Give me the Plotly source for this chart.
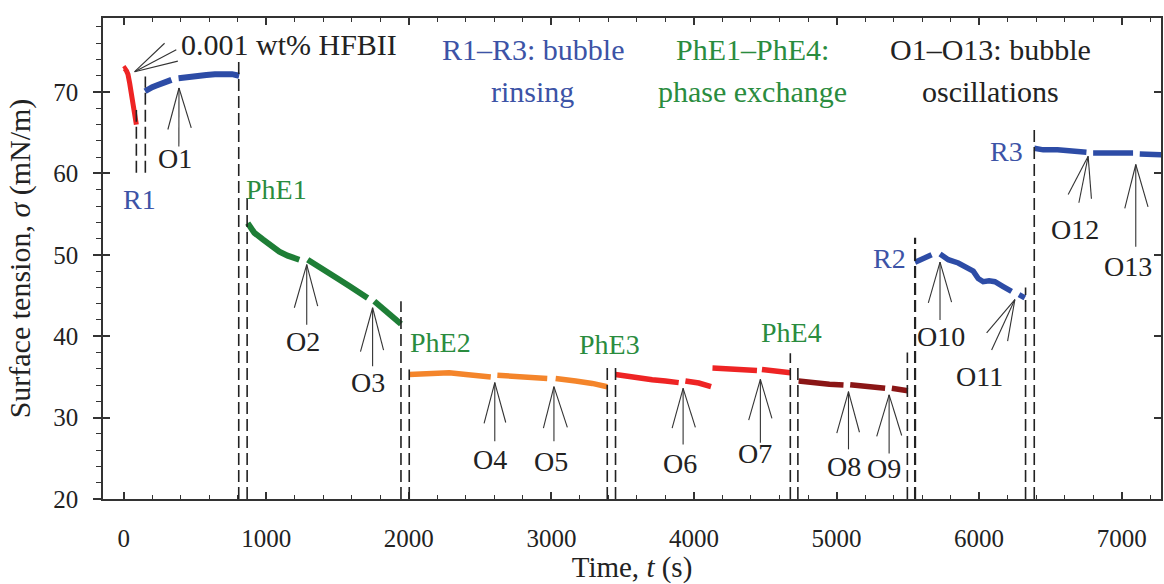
import plotly.graph_objects as go

# ---------------- data (time in s, surface tension in mN/m); None = gap ----------------
t_red1 = [0, 8, 20, 30, 42, 54, 65, 77, 89]
s_red1 = [72.8, 72.9, 72.6, 72.2, 71.1, 69.9, 68.6, 67.4, 66.0]

t_blue1 = [150, 175, 200, 230, 260, 290, 320, 335, None, 385, 420, 470, 520, 580, 640, 700, 760, 810]
s_blue1 = [70.1, 70.4, 70.6, 70.8, 71.0, 71.2, 71.4, 71.5, None, 71.7, 71.8, 71.9, 72.0, 72.1, 72.2, 72.2, 72.2, 72.0]

t_green = [870, 917, 976, 1030, 1092, 1150, 1200, 1232, None, 1291, 1350, 1420, 1500, 1580, 1650, 1711,
           None, 1758, 1820, 1890, 1945]
s_green = [53.9, 52.7, 51.9, 51.1, 50.4, 49.9, 49.6, 49.4, None, 49.4, 48.7, 48.0, 47.1, 46.2, 45.4, 44.7,
           None, 44.3, 43.4, 42.4, 41.5]

t_orange = [2003, 2100, 2166, 2283, 2400, 2500, 2575, None, 2621, 2700, 2820, 2900, 2971, None,
            3030, 3100, 3170, 3287, 3392]
s_orange = [35.3, 35.4, 35.4, 35.5, 35.3, 35.2, 35.0, None, 35.2, 35.1, 35.0, 34.9, 34.8, None,
            34.8, 34.7, 34.5, 34.2, 33.8]

t_red3a = [3450, 3567, 3707, 3800, 3893, None, 3940, 4034, 4120]
s_red3a = [35.3, 34.95, 34.65, 34.5, 34.3, None, 34.5, 34.25, 33.8]

t_red3b = [4130, 4267, 4350, 4442, None, 4477, 4594, 4676]
s_red3b = [36.1, 35.9, 35.85, 35.8, None, 35.9, 35.7, 35.5]

t_dark = [4734, 4851, 4950, 5049, None, 5096, 5224, 5341, None, 5388, 5450, 5500]
s_dark = [34.5, 34.25, 34.1, 34.0, None, 34.05, 33.8, 33.6, None, 33.6, 33.5, 33.3]

t_blue2 = [5551, 5609, 5667, None, 5726, 5784, 5854, 5924, 5959, 5994, 6029, 6070, 6111, 6169, 6228,
           None, 6280, 6321]
s_blue2 = [49.1, 49.6, 50.0, None, 50.1, 49.4, 49.0, 48.4, 48.0, 47.1, 46.7, 46.8, 46.7, 46.1, 45.5,
           None, 45.1, 44.7]

t_blue3 = [6387, 6450, 6550, 6650, 6753, None, 6800, 6900, 7000, 7080, None, 7127, 7200, 7278]
s_blue3 = [63.1, 62.9, 62.9, 62.8, 62.6, None, 62.5, 62.5, 62.5, 62.5, None, 62.4, 62.4, 62.3]

# vertical dashed markers: time, top, bottom
dash_t = [89, 152, 807, 866, 1945, 2003, 3392, 3450, 4676, 4729, 5497, 5551, 6326, 6387]
dash_top = [67.8, 71.9, 73.8, 57.1, 44.3, 35.9, 36.1, 36.1, 37.9, 36.1, 38.0, 52.1, 46.0, 65.8]
dash_bot = [60.1, 60.1, 20, 20, 20, 20, 20, 20, 20, 20, 20, 20, 20, 20]

# oscillation arrows: label, label position, tip, line ends
osc_labels = ["O1", "O2", "O3", "O4", "O5", "O6", "O7", "O8", "O9", "O10", "O11", "O12", "O13"]
osc_label_t = [357, 1256, 1711, 2570, 2995, 3905, 4431, 5049, 5336, 5733, 6006, 6671, 7045]
osc_label_s = [61.8, 39.4, 34.3, 24.8, 24.6, 24.4, 25.6, 24.0, 23.8, 40.0, 35.1, 53.1, 48.6]
osc_tip_t = [388, 1284, 1746, 2603, 3018, 3924, 4466, 5084, 5369, 5726, 6251, 6765, 7099]
osc_tip_s = [70.5, 48.8, 43.5, 34.3, 33.8, 33.6, 34.7, 33.2, 32.8, 49.1, 44.5, 62.1, 61.1]
osc_ends = [
    [(310, 65.4), (387, 63.3), (474, 65.6)],
    [(1197, 43.5), (1284, 41.4), (1361, 43.7)],
    [(1661, 38.1), (1746, 36.3), (1823, 38.3)],
    [(2528, 29.3), (2603, 27.1), (2680, 29.4)],
    [(2944, 28.7), (3018, 27.1), (3112, 28.8)],
    [(3847, 28.7), (3924, 26.7), (4010, 28.8)],
    [(4384, 29.7), (4466, 26.9), (4547, 29.9)],
    [(5002, 28.1), (5084, 26.1), (5161, 28.2)],
    [(5282, 27.7), (5369, 25.6), (5457, 27.8)],
    [(5644, 44.1), (5726, 42.0), (5807, 44.2)],
    [(6053, 40.4), (6088, 38.3), (6200, 39.4)],
    [(6625, 57.4), (6700, 56.4), (6788, 56.9)],
    [(7022, 55.7), (7099, 51.0), (7185, 55.9)],
]

# HFBII concentration pointer
hfb_tip = (77, 72.5)
hfb_ends = [(287, 76.0), (369, 75.2), (380, 73.8)]

# stage labels
stage_labels = ["R1", "PhE1", "PhE2", "PhE3", "PhE4", "R2", "R3"]
stage_t = [112, 1072, 2220, 3410, 4681, 5371, 6192]
stage_s = [56.8, 58.0, 39.2, 39.0, 40.4, 49.6, 62.7]
stage_kind = ["R", "P", "P", "P", "P", "R", "R"]

BLUE = "#2D4CA6"
RED = "#EE2424"
GREEN = "#1E7E36"
ORANGE = "#F4852B"
DARK = "#8A1616"
TXT_BLUE = "#3C53A6"
TXT_GREEN = "#2A8C3E"
INK = "#222222"
FONT = "Liberation Serif, Times New Roman, serif"

series = [
    (t_red1, s_red1, RED, 5),
    (t_blue1, s_blue1, BLUE, 6),
    (t_green, s_green, GREEN, 6),
    (t_orange, s_orange, ORANGE, 5.5),
    (t_red3a, s_red3a, RED, 5.5),
    (t_red3b, s_red3b, RED, 5.5),
    (t_dark, s_dark, DARK, 5.5),
    (t_blue2, s_blue2, BLUE, 5.5),
    (t_blue3, s_blue3, BLUE, 5.5),
]

fig = go.Figure()
for tx, sy, col, w in series:
    fig.add_trace(go.Scatter(x=tx, y=sy, mode="lines", connectgaps=False,
                             line=dict(color=col, width=w), showlegend=False, hoverinfo="skip"))

# overlay axis for inward ticks on the left / right
fig.add_trace(go.Scatter(x=[None], y=[None], xaxis="x", yaxis="y2", showlegend=False, hoverinfo="skip"))

shapes = []
for i, t in enumerate(dash_t):
    shapes.append(dict(type="line", xref="x", yref="y", x0=t, x1=t, y0=dash_bot[i], y1=dash_top[i],
                       line=dict(color=INK, width=1.6 if i != 11 else 2.2, dash="12px,5px")))
for i in range(len(osc_labels)):
    for (et, es) in osc_ends[i]:
        shapes.append(dict(type="line", xref="x", yref="y", x0=osc_tip_t[i], y0=osc_tip_s[i], x1=et, y1=es,
                           line=dict(color="#333333", width=1.1)))
for (et, es) in hfb_ends:
    shapes.append(dict(type="line", xref="x", yref="y", x0=hfb_tip[0], y0=hfb_tip[1], x1=et, y1=es,
                       line=dict(color="#333333", width=1.1)))

ann = []
for i, lab in enumerate(osc_labels):
    ann.append(dict(x=osc_label_t[i], y=osc_label_s[i], text=lab, showarrow=False,
                    font=dict(family=FONT, size=28, color=INK)))
for i, lab in enumerate(stage_labels):
    ann.append(dict(x=stage_t[i], y=stage_s[i], text=lab, showarrow=False,
                    font=dict(family=FONT, size=28, color=TXT_BLUE if stage_kind[i] == "R" else TXT_GREEN)))

headers = [
    ("0.001 wt% HFBII", 1162, 75.9, INK),
    ("R1\u2013R3: bubble", 2878, 75.2, TXT_BLUE),
    ("rinsing", 2871, 70.1, TXT_BLUE),
    ("PhE1\u2013PhE4:", 4408, 75.2, TXT_GREEN),
    ("phase exchange", 4410, 70.1, TXT_GREEN),
    ("O1\u2013O13: bubble", 6082, 75.2, INK),
    ("oscillations", 6082, 70.1, INK),
]
for txt, t, s, col in headers:
    ann.append(dict(x=t, y=s, text=txt, showarrow=False, font=dict(family=FONT, size=30, color=col)))

axis_col = "#333333"
fig.update_layout(
    width=1164, height=584,
    margin=dict(l=103, r=1, t=18, b=85),
    paper_bgcolor="white", plot_bgcolor="white",
    font=dict(family=FONT, size=25, color=INK),
    shapes=shapes, annotations=ann,
    xaxis=dict(range=[-145, 7276], tickvals=[0, 1000, 2000, 3000, 4000, 5000, 6000, 7000],
               ticks="inside", ticklen=7, tickwidth=1.5, tickcolor=axis_col,
               minor=dict(dtick=200, tick0=0, ticks="inside", ticklen=4, tickwidth=1.2, tickcolor=axis_col),
               showline=True, linecolor=axis_col, linewidth=1.5, mirror="ticks",
               showgrid=False, zeroline=False, ticklabelstandoff=16,
               tickfont=dict(family=FONT, size=25, color=INK),
               title=dict(text="Time, <i>t</i> (s)", font=dict(family=FONT, size=29, color=INK), standoff=6)),
    yaxis=dict(range=[20, 79.1], tickvals=[20, 30, 40, 50, 60, 70],
               ticks="outside", ticklen=8, tickwidth=1.5, tickcolor=axis_col,
               minor=dict(dtick=2, tick0=20, ticks="outside", ticklen=5, tickwidth=1.2, tickcolor=axis_col),
               showline=True, linecolor=axis_col, linewidth=1.5, mirror=True,
               showgrid=False, zeroline=False, ticklabelstandoff=10,
               tickfont=dict(family=FONT, size=25, color=INK),
               title=dict(text="Surface tension, <i>\u03c3</i> (mN/m)", font=dict(family=FONT, size=30, color=INK),
                          standoff=14)),
    yaxis2=dict(range=[20, 79.1], overlaying="y", side="left", tickvals=[20, 30, 40, 50, 60, 70],
                ticks="inside", ticklen=7, tickwidth=1.5, tickcolor=axis_col, mirror="ticks",
                showline=False, showticklabels=False, showgrid=False, zeroline=False),
)

fig.write_html("out.html")
